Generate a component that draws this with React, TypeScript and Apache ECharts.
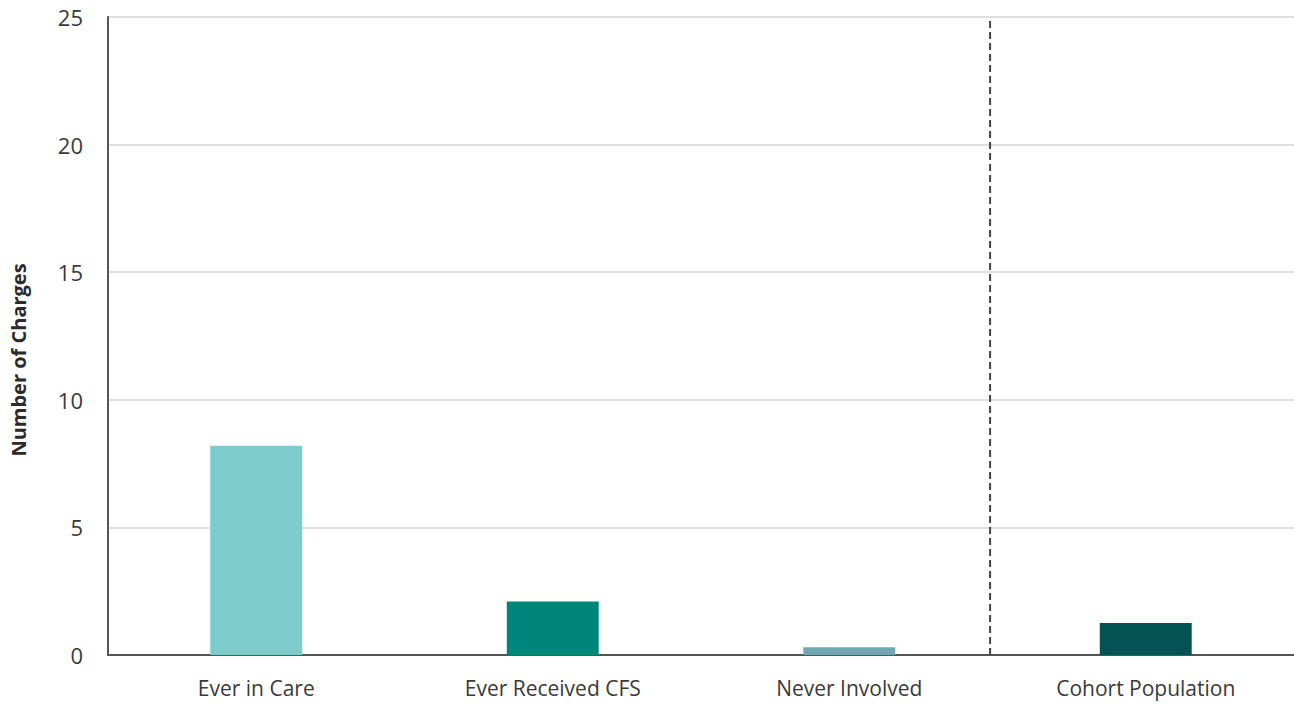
import React, { useEffect, useRef } from "react";
import * as echarts from "echarts";

const categories = ["Ever in Care", "Ever Received CFS", "Never Involved", "Cohort Population"];
const values = [8.2, 2.1, 0.3, 1.25];
const barColors = ["#7ECBCB", "#00857A", "#6FA8B0", "#035355"];
const yTicks = [0, 5, 10, 15, 20, 25];
const dividerPos = 2.475; // in category-index units (between "Never Involved" and "Cohort Population")

export default function App() {
  const ref = useRef<HTMLDivElement>(null);
  useEffect(() => {
    const chart = echarts.init(ref.current!, null, { renderer: "svg" });
    const font = "'Open Sans', 'Noto Sans', sans-serif";
    const yMin = yTicks[0];
    const yMax = yTicks[yTicks.length - 1];
    chart.setOption({
      animation: false,
      grid: { left: 108, right: -2, top: 17, bottom: 51, containLabel: false },
      xAxis: {
        type: "category",
        data: categories,
        axisLine: { show: true, lineStyle: { color: "#555", width: 2 } },
        axisTick: { show: false },
        axisLabel: { color: "#3a3a3a", fontSize: 21, fontFamily: font, margin: 22 },
      },
      yAxis: {
        type: "value",
        min: yMin,
        max: yMax,
        interval: 5,
        axisLine: { show: true, lineStyle: { color: "#555", width: 2 } },
        axisTick: { show: false },
        splitLine: { lineStyle: { color: "#d4d4d4", width: 1.5 } },
        axisLabel: { color: "#3a3a3a", fontSize: 22, fontFamily: font, margin: 25 },
      },
      series: [
        {
          type: "bar",
          barWidth: "31%",
          data: values.map((v, i) => ({ value: v, itemStyle: { color: barColors[i] } })),
        },
      ],
    });
    const lo = Math.floor(dividerPos);
    const frac = dividerPos - lo;
    const xa = chart.convertToPixel({ xAxisIndex: 0 }, lo) as number;
    const xb = chart.convertToPixel({ xAxisIndex: 0 }, lo + 1) as number;
    const xd = xa + (xb - xa) * frac;
    const y0 = chart.convertToPixel({ yAxisIndex: 0 }, yMin) as number;
    const y1 = chart.convertToPixel({ yAxisIndex: 0 }, yMax) as number;
    chart.setOption({
      graphic: [
        {
          type: "text",
          x: 8,
          y: 360,
          rotation: Math.PI / 2,
          style: {
            text: "Number of Charges",
            fontSize: 20,
            fontWeight: "bold",
            fontFamily: font,
            fill: "#2b2b2b",
            align: "center",
            verticalAlign: "top",
          },
        },
        {
          type: "line",
          shape: { x1: xd, y1: y0, x2: xd, y2: y1 },
          style: { stroke: "#444", lineWidth: 2, lineDash: [7, 4] },
          z: 10,
        },
      ],
    });
    return () => chart.dispose();
  }, []);
  return <div ref={ref} style={{ width: 1294, height: 706, position: "absolute", left: 0, top: 0 }} />;
}
